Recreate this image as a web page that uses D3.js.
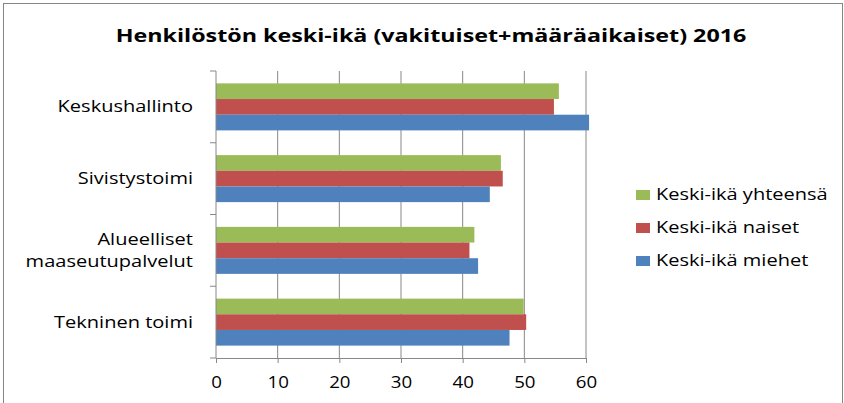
<!DOCTYPE html>
<html>
<head>
<meta charset="utf-8">
<script src="https://cdn.jsdelivr.net/npm/d3@7"></script>
<style>
	body { margin: 0; background: #fff; }
	text { font-family: "Open Sans", "DejaVu Sans", sans-serif; fill: #000; }
</style>
</head>
<body>
<script>
const categories = ['Keskushallinto', 'Sivistystoimi', 'Alueelliset maaseutupalvelut', 'Tekninen toimi'];
const seriesNames = ['Keski-ikä yhteensä', 'Keski-ikä naiset', 'Keski-ikä miehet'];
const yhteensa = [55.6, 46.2, 41.9, 49.9];
const naiset = [54.8, 46.5, 41.1, 50.3];
const miehet = [60.5, 44.4, 42.5, 47.6];
const xTicks = [0, 10, 20, 30, 40, 50, 60];
const colors = ['#9bbb59', '#c0504d', '#4f81bd'];

const width = 844, height = 403;
const plot = { left: 216, right: 586, top: 71, bottom: 358 };

// the original image is a bit stretched sideways, so text gets a horizontal scale
const stretched = (x, y, k) => `translate(${x},${y}) scale(${k},1)`;

const svg = d3.select('body').append('svg')
	.attr('width', width)
	.attr('height', height);

// chart frame
svg.append('rect')
	.attr('x', 3.5).attr('y', 3.5)
	.attr('width', width - 5).attr('height', height + 10)
	.attr('fill', 'none')
	.attr('stroke', '#868686');

svg.append('text')
	.attr('transform', stretched(431, 42, 1.37))
	.attr('text-anchor', 'middle')
	.style('font-size', '17px')
	.style('font-weight', 'bold')
	.text('Henkilöstön keski-ikä (vakituiset+määräaikaiset) 2016');

const x = d3.scaleLinear().domain([0, 60]).range([plot.left, plot.right]);
const y = d3.scaleBand().domain(categories).range([plot.top, plot.bottom]).paddingInner(0).paddingOuter(0);
const inner = d3.scaleBand().domain(seriesNames).range([0, y.bandwidth()]).paddingInner(0).paddingOuter(0.79);

// gridlines
svg.append('g')
	.selectAll('line')
	.data(xTicks.slice(1))
	.join('line')
	.attr('x1', d => x(d)).attr('x2', d => x(d))
	.attr('y1', plot.top).attr('y2', plot.bottom)
	.attr('stroke', '#888').attr('stroke-width', 1);

const rows = categories.map((c, i) => ({ cat: c, vals: [yhteensa[i], naiset[i], miehet[i]] }));

const group = svg.append('g').selectAll('g')
	.data(rows)
	.join('g')
	.attr('transform', d => `translate(0,${y(d.cat)})`);

group.selectAll('rect')
	.data(d => d.vals.map((v, j) => ({ name: seriesNames[j], v, j })))
	.join('rect')
	.attr('x', x(0))
	.attr('y', d => inner(d.name))
	.attr('width', d => x(d.v) - x(0))
	.attr('height', inner.bandwidth())
	.attr('fill', d => colors[d.j]);

// x axis
const xAxis = svg.append('g')
	.attr('transform', `translate(0,${plot.bottom})`)
	.call(d3.axisBottom(x).tickValues(xTicks).tickSize(5).tickFormat(d3.format('d')));
xAxis.select('.domain').attr('stroke', '#888');
xAxis.selectAll('.tick line').attr('stroke', '#888');
xAxis.selectAll('text')
	.attr('y', null).attr('dy', null)
	.attr('transform', stretched(0, 30, 1.1))
	.style('font-size', '17px').attr('fill', '#000');

// y axis line + ticks at band boundaries
svg.append('line')
	.attr('x1', plot.left).attr('x2', plot.left)
	.attr('y1', plot.top).attr('y2', plot.bottom)
	.attr('stroke', '#888');
const bounds = categories.map(c => y(c)).concat([plot.bottom]);
svg.append('g').selectAll('line')
	.data(bounds)
	.join('line')
	.attr('x1', plot.left - 6).attr('x2', plot.left)
	.attr('y1', d => d).attr('y2', d => d)
	.attr('stroke', '#888');

// category labels
const labelLines = {
	'Alueelliset maaseutupalvelut': ['Alueelliset', 'maaseutupalvelut']
};
svg.append('g').selectAll('text')
	.data(categories)
	.join('text')
	.attr('transform', c => stretched(193, y(c) + y.bandwidth() / 2, 1.3))
	.attr('text-anchor', 'end')
	.style('font-size', '15.4px')
	.each(function(c) {
		const lines = labelLines[c] || [c];
		const t = d3.select(this);
		lines.forEach((l, k) => {
			t.append('tspan')
				.attr('x', 0)
				.attr('y', 5.5 + (k - (lines.length - 1) / 2) * 21.7)
				.text(l);
		});
	});

// legend
const legend = svg.append('g').selectAll('g')
	.data(seriesNames)
	.join('g')
	.attr('transform', (d, i) => `translate(636,${190 + i * 33})`);
legend.append('rect')
	.attr('width', 14).attr('height', 10)
	.attr('fill', (d, i) => colors[i]);
legend.append('text')
	.attr('transform', stretched(20, 9.5, 1.25))
	.style('font-size', '16px')
	.text(d => d);
</script>
</body>
</html>
